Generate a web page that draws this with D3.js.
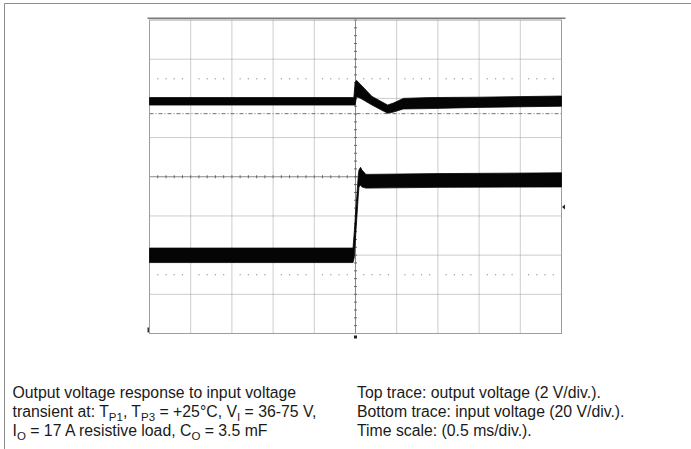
<!DOCTYPE html>
<html>
<head>
<meta charset="utf-8">
<script src="https://cdn.jsdelivr.net/npm/d3@7"></script>
<style>
	body { margin: 0; background: #fff; }
	svg text { font-family: "Liberation Sans", Arial, sans-serif; fill: #1a1a1a; }
</style>
</head>
<body>
<div id="chart"></div>
<script>
// time axis: 0.5 ms/div, 10 divisions, trigger in the centre
let timeTicks	= [-2.5, -2, -1.5, -1, -0.5, 0, 0.5, 1, 1.5, 2, 2.5];
// vertical axis in divisions, 8 divisions
let divTicks	= [-4, -3, -2, -1, 0, 1, 2, 3, 4];

// top trace: output voltage (2 V/div), noise envelope in divisions
let outTime		= [-2.5, -0.02, -0.005, 0.012, 0.055, 0.2, 0.39, 0.46, 0.58, 0.9, 1.5, 2.5];
let outHigh		= [2.02, 2.02, 2.40, 2.46, 2.37, 2.05, 1.83, 1.88, 2.00, 2.02, 2.03, 2.06];
let outLow		= [1.83, 1.83, 1.83, 2.04, 2.01, 1.83, 1.62, 1.65, 1.73, 1.74, 1.77, 1.80];

// bottom trace: input voltage (20 V/div), noise envelope in divisions
let inTime		= [-2.5, -0.03, -0.016, 0.034, 0.042, 0.061, 0.079, 0.127, 1.0, 2.5];
let inHigh		= [-1.82, -1.82, -1.44, 0.04, 0.17, 0.24, 0.17, 0.06, 0.08, 0.10];
let inLow		= [-2.19, -2.19, -2.07, -0.47, -0.26, -0.21, -0.26, -0.29, -0.27, -0.26];

// graticule extras
let dotRows		= [2.5, -2.5];
let cursorDiv	= 1.61;
let leftMark	= -3.91;
let rightMark	= -0.77;

let captionLeft = [
	[['Output voltage response to input voltage']],
	[['transient at: T'], ['P1', 'sub'], [', T'], ['P3', 'sub'], [' = +25°C, V'], ['I', 'sub'], [' = 36-75 V,']],
	[['I'], ['O', 'sub'], [' = 17 A resistive load, C'], ['O', 'sub'], [' = 3.5 mF']]
];
let captionRight = [
	[['Top trace: output voltage (2 V/div.).']],
	[['Bottom trace: input voltage (20 V/div.).']],
	[['Time scale: (0.5 ms/div.).']]
];

let canvasWidth		= 691;
let canvasHeight	= 449;
let plot			= { left: 149.5, right: 561.5, top: 20, bottom: 333.5 };

let x = d3.scaleLinear().domain([-2.5, 2.5]).range([plot.left, plot.right]);
let y = d3.scaleLinear().domain([-4, 4]).range([plot.bottom, plot.top]);

let svg = d3.select('#chart').append('svg')
	.attr('width', canvasWidth)
	.attr('height', canvasHeight);

// page border (top and left)
svg.append('path')
	.attr('d', 'M4.5,449 V3.5 H691')
	.attr('fill', 'none')
	.attr('stroke', '#8c8c8c')
	.attr('stroke-width', 1);

let grid = svg.append('g').attr('class', 'grid');

// vertical grid lines
grid.selectAll('.vline')
	.data(timeTicks.slice(1, -1).filter((t) => t !== 0)).enter().append('line')
		.attr('class', 'vline')
		.attr('x1', (t) => x(t)).attr('x2', (t) => x(t))
		.attr('y1', plot.top).attr('y2', plot.bottom)
		.attr('stroke', '#cdcdcd')
		.attr('stroke-width', 1);

// horizontal grid lines (dotted)
grid.selectAll('.hline')
	.data(divTicks.slice(1, -1).filter((d) => d !== 0)).enter().append('line')
		.attr('class', 'hline')
		.attr('x1', plot.left).attr('x2', plot.right)
		.attr('y1', (d) => y(d)).attr('y2', (d) => y(d))
		.attr('stroke', '#9a9a9a')
		.attr('stroke-width', 1)
		.attr('stroke-dasharray', '1,1');

// sparse dotted rows at +-2.5 div
let minorT = d3.range(-25, 26).map((i) => i / 10).filter((t) => Math.abs(Math.round(t * 2) - t * 2) > 1e-6);
dotRows.forEach((row) => {
	grid.selectAll(null)
		.data(minorT).enter().append('rect')
			.attr('x', (t) => x(t) - 0.6)
			.attr('y', y(row) - 0.6)
			.attr('width', 1.2)
			.attr('height', 1.2)
			.attr('fill', '#9a9a9a');
});

// centre axes
grid.append('line')
	.attr('x1', x(0)).attr('x2', x(0))
	.attr('y1', plot.top).attr('y2', plot.bottom)
	.attr('stroke', '#8a8a8a').attr('stroke-width', 1);
grid.append('line')
	.attr('x1', plot.left).attr('x2', plot.right)
	.attr('y1', y(0)).attr('y2', y(0))
	.attr('stroke', '#8a8a8a').attr('stroke-width', 1);

// minor ticks on centre axes
grid.selectAll('.vtick')
	.data(d3.range(-20, 21).map((i) => i / 5)).enter().append('line')
		.attr('class', 'vtick')
		.attr('x1', x(0) - 1.5).attr('x2', x(0) + 1.5)
		.attr('y1', (d) => y(d)).attr('y2', (d) => y(d))
		.attr('stroke', '#666').attr('stroke-width', 1);
grid.selectAll('.htick')
	.data(d3.range(-25, 26).map((i) => i / 10)).enter().append('line')
		.attr('class', 'htick')
		.attr('x1', (t) => x(t)).attr('x2', (t) => x(t))
		.attr('y1', y(0) - 1.5).attr('y2', y(0) + 1.5)
		.attr('stroke', '#666').attr('stroke-width', 1);

// dash-dot cursor line
grid.append('line')
	.attr('x1', plot.left).attr('x2', plot.right)
	.attr('y1', y(cursorDiv)).attr('y2', y(cursorDiv))
	.attr('stroke', '#707070')
	.attr('stroke-width', 1)
	.attr('stroke-dasharray', '4,2,1,2');

// frame
svg.append('rect')
	.attr('x', plot.left).attr('y', plot.top)
	.attr('width', plot.right - plot.left)
	.attr('height', plot.bottom - plot.top)
	.attr('fill', 'none')
	.attr('stroke', '#9d9d9d')
	.attr('stroke-width', 1);
svg.append('line')
	.attr('x1', plot.left - 2).attr('x2', plot.right + 4)
	.attr('y1', plot.top - 1.8).attr('y2', plot.top - 1.8)
	.attr('stroke', '#7a7a7a')
	.attr('stroke-width', 1.4);

// traces
let area = d3.area()
	.x((d) => x(d.t))
	.y0((d) => y(d.lo))
	.y1((d) => y(d.hi));

let traces = [
	outTime.map((t, i) => ({ t: t, hi: outHigh[i], lo: outLow[i] })),
	inTime.map((t, i) => ({ t: t, hi: inHigh[i], lo: inLow[i] }))
];

svg.selectAll('.trace')
	.data(traces).enter().append('path')
		.attr('class', 'trace')
		.attr('d', area)
		.attr('fill', '#050505')
		.attr('stroke', '#050505')
		.attr('stroke-width', 0.8)
		.attr('stroke-linejoin', 'round');

// channel / trigger markers
svg.append('rect')
	.attr('x', plot.left - 2).attr('y', y(leftMark) - 2.5)
	.attr('width', 1.5).attr('height', 5)
	.attr('fill', '#333');
svg.append('path')
	.attr('d', 'M' + (plot.right + 0.5) + ',' + y(rightMark) + ' l3,-2.5 v5 z')
	.attr('fill', '#222');
svg.append('rect')
	.attr('x', x(0) - 1.5).attr('y', plot.bottom + 2)
	.attr('width', 3).attr('height', 3)
	.attr('fill', '#222');

// caption
function writeLines(lines, xPos) {
	lines.forEach((parts, i) => {
		let text = svg.append('text')
			.attr('x', xPos)
			.attr('y', 397.5 + i * 19.3)
			.attr('font-size', 15.8);
		parts.forEach((p) => {
			let span = text.append('tspan').text(p[0]);
			if (p[1] === 'sub') {
				span.attr('font-size', 11.5).attr('baseline-shift', '-3.5');
			}
		});
	});
}
writeLines(captionLeft, 12.5);
writeLines(captionRight, 357);
</script>
</body>
</html>
